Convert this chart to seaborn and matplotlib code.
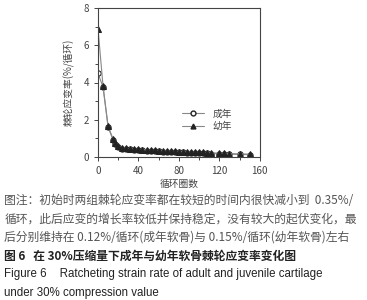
import matplotlib
matplotlib.use("Agg")
import matplotlib.pyplot as plt
import seaborn as sns
import pandas as pd
from matplotlib.ticker import MultipleLocator
from matplotlib.lines import Line2D

cycles = [0, 5, 10, 15, 17, 20, 24, 28, 32, 36, 40, 44, 48, 52, 56, 60, 64, 68,
          72, 76, 80, 84, 88, 92, 96, 100, 104, 108, 112, 120, 125, 130, 140, 150]
adult = [4.5, 3.75, 1.6, 0.9, 0.7, 0.55, 0.45, 0.42, 0.4, 0.38, 0.36, 0.35, 0.33,
         0.32, 0.31, 0.3, 0.29, 0.28, 0.27, 0.26, 0.25, 0.24, 0.23, 0.22, 0.21,
         0.2, 0.2, 0.19, 0.18, 0.16, 0.15, 0.15, 0.13, 0.12]
juvenile = [6.9, 3.8, 1.65, 0.95, 0.75, 0.6, 0.5, 0.46, 0.44, 0.42, 0.4, 0.38,
            0.37, 0.36, 0.35, 0.34, 0.33, 0.32, 0.31, 0.3, 0.29, 0.28, 0.27,
            0.26, 0.25, 0.24, 0.24, 0.23, 0.22, 0.2, 0.19, 0.18, 0.16, 0.15]
series_names = ["成年", "幼年"]

caption_lines = [
    "图注：初始时两组棘轮应变率都在较短的时间内很快减小到  0.35%/",
    "循环，此后应变的增长率较低并保持稳定，没有较大的起伏变化，最",
    "后分别维持在 0.12%/循环(成年软骨)与 0.15%/循环(幼年软骨)左右",
]
title_cn = "图 6   在 30%压缩量下成年与幼年软骨棘轮应变率变化图"
title_en = ["Figure 6    Ratcheting strain rate of adult and juvenile cartilage",
            "under 30% compression value"]

df = pd.DataFrame({
    "cycle": cycles * 2,
    "rate": adult + juvenile,
    "group": [series_names[0]] * len(cycles) + [series_names[1]] * len(cycles),
})

sns.set_style("ticks")
plt.rcParams['font.family'] = ['Noto Sans CJK SC', 'DejaVu Sans']

fig = plt.figure(figsize=(3.67, 3.0), dpi=100)
ax = fig.add_axes([0.267, 0.477, 0.441, 0.496])

sns.lineplot(data=df, x="cycle", y="rate", hue="group", style="group",
             markers={"成年": "o", "幼年": "^"}, dashes=False,
             palette={"成年": "#888888", "幼年": "#888888"},
             linewidth=0.8, markersize=3.8, markeredgecolor="#222222",
             ax=ax, legend=False)
# open circles for adult, filled triangles for juvenile
ax.lines[0].set_markerfacecolor("white")
ax.lines[1].set_markerfacecolor("#222222")

ax.set_xlim(0, 160)
ax.set_ylim(0, 8)
ax.xaxis.set_major_locator(MultipleLocator(40))
ax.xaxis.set_minor_locator(MultipleLocator(20))
ax.yaxis.set_major_locator(MultipleLocator(2))
ax.yaxis.set_minor_locator(MultipleLocator(1))
ax.tick_params(which="both", labelsize=7, colors="#444444", length=3, width=0.7)
ax.tick_params(which="minor", length=2)
for s in ax.spines.values():
    s.set_color("#444444")
    s.set_linewidth(0.8)

ax.set_xlabel("循环圈数", fontsize=7, color="#444444", labelpad=2)
ax.set_ylabel("棘轮应变率(%/循环)", fontsize=7, color="#444444", labelpad=6)

handles = [
    Line2D([], [], color="#888888", lw=0.8, marker="o", ms=3.5,
           mfc="white", mec="#222222"),
    Line2D([], [], color="#888888", lw=0.8, marker="^", ms=3.5,
           mfc="#222222", mec="#222222"),
]
ax.legend(handles, series_names, frameon=False, fontsize=7, loc="center right",
          bbox_to_anchor=(0.88, 0.25), handlelength=2.3, labelspacing=0.25,
          labelcolor="#444444")

y0 = 1 - 200 / 300
step = 18.6 / 300
for i, line in enumerate(caption_lines):
    fig.text(0.012, y0 - i * step, line, fontsize=8.5, color="#555555", va="center")
fig.text(0.012, y0 - 3 * step, title_cn, fontsize=8.5, color="#222222",
         va="center", fontweight="bold")
for i, line in enumerate(title_en):
    fig.text(0.012, y0 - (4 + i) * step, line, fontsize=8.3, color="#222222",
             va="center", family=["Liberation Sans", "DejaVu Sans"])

fig.savefig("out.png", dpi=100)
